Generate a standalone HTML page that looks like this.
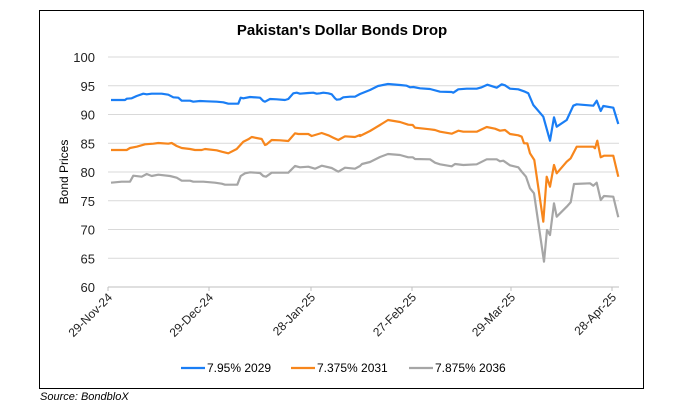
<!DOCTYPE html>
<html><head><meta charset="utf-8"><style>
html,body{margin:0;padding:0;background:#fff;}
body{width:685px;height:403px;overflow:hidden;font-family:"Liberation Sans",Calibri,sans-serif;}
</style></head><body>
<svg id="s" width="685" height="403" xmlns="http://www.w3.org/2000/svg" font-family="Liberation Sans, sans-serif">
<rect x="39.5" y="10.5" width="604" height="378" fill="#fff" stroke="#000" stroke-width="1"/>
<text x="342" y="35" text-anchor="middle" font-size="15" font-weight="bold">Pakistan's Dollar Bonds Drop</text>
<g id="grid" stroke="#d9d9d9" stroke-width="1"></g>
<g id="ylab" font-size="13" fill="#222" text-anchor="end"></g>
<text transform="translate(68,172) rotate(-90)" text-anchor="middle" font-size="12">Bond Prices</text>
<g id="xlab" font-size="12" fill="#222" text-anchor="end"></g>
<g id="lines" fill="none" stroke-width="2.2" stroke-linejoin="round"></g>
<g font-size="12">
<line x1="181" y1="368" x2="205" y2="368" stroke="#1a7ef5" stroke-width="2.2"/>
<text x="207" y="372">7.95% 2029</text>
<line x1="291" y1="368" x2="315" y2="368" stroke="#f7861c" stroke-width="2.2"/>
<text x="317" y="372">7.375% 2031</text>
<line x1="409" y1="368" x2="433" y2="368" stroke="#a6a6a6" stroke-width="2.2"/>
<text x="435" y="372">7.875% 2036</text>
</g>
<text x="40" y="400" font-size="11" font-style="italic">Source: BondbloX</text>
</svg>
<script>
var NS="http://www.w3.org/2000/svg";
function el(p,t,a,txt){var e=document.createElementNS(NS,t);for(var k in a)e.setAttribute(k,a[k]);if(txt)e.textContent=txt;document.getElementById(p).appendChild(e);}
for(var v=60;v<=100;v+=5){var y=57+(100-v)*5.75;
 el("grid","line",{x1:108,x2:619,y1:y,y2:y,stroke:v==60?"#bfbfbf":"#d9d9d9"});
 el("ylab","text",{x:95,y:y+5},String(v));}
var ticks=[[108,"29-Nov-24"],[209,"29-Dec-24"],[311,"28-Jan-25"],[412,"27-Feb-25"],[511,"29-Mar-25"],[612,"28-Apr-25"]];
ticks.forEach(function(t){el("grid","line",{x1:t[0],x2:t[0],y1:287,y2:291,stroke:"#bfbfbf"});
 el("xlab","text",{transform:"translate("+(t[0]+5)+",298) rotate(-45)"},t[1]);});
function conv(z1,gap,z2){var p=[];z1.forEach(function(a){p.push([30+a[0]/3,40+a[1]/3]);});
 gap.forEach(function(a){p.push(a);});z2.forEach(function(a){p.push([400+a[0]/3,40+a[1]/3]);});
 return p.map(function(a){return a[0].toFixed(1)+","+a[1].toFixed(1);}).join(" ");}
var blue=conv([[243,180],[285,180],[290,176],[305,175],[320,168],[340,161],[350,163],[365,161],[395,161],[415,164],[430,172],[445,173],[455,182],[480,182],[490,185],[510,183],[530,184],[560,185],[580,187],[595,191],[625,191],[632,173],[640,175],[660,171],[690,173],[700,183],[705,185],[720,177],[740,178],[765,180],[775,177],[790,160],[800,158],[810,161],[835,159],[850,158],[860,161],[870,160],[880,158],[895,160],[905,163],[915,175],[920,179],[930,178],[940,172],[960,170],[975,170],[990,162]],
[[360,94],[370,90],[378,86],[388,84],[400,85]],
[[20,137],[30,142],[40,141],[60,145],[90,147],[120,155],[155,156],[160,158],[175,148],[200,146],[230,146],[245,142],[262,134],[290,143],[305,133],[315,136],[330,146],[355,148],[375,155],[385,160],[400,195],[430,230],[450,302],[462,232],[470,260],[500,240],[520,197],[530,193],[580,197],[590,182],[602,213],[610,198],[640,203],[655,252]]);
var orange=conv([[243,330],[290,330],[300,324],[320,320],[345,313],[370,311],[385,309],[415,311],[425,309],[440,318],[455,324],[480,327],[495,330],[515,330],[525,327],[560,331],[575,335],[595,340],[620,327],[640,305],[655,298],[665,291],[695,297],[705,315],[710,313],[725,300],[750,301],[775,303],[795,280],[805,282],[835,282],[845,288],[875,279],[895,286],[910,293],[925,300],[945,289],[975,291],[990,285]],
[[360,136],[370,131],[380,125],[388,120],[400,122]],
[[25,254],[38,255],[45,263],[90,268],[105,270],[120,275],[155,281],[175,272],[190,275],[230,275],[260,261],[285,266],[300,272],[315,270],[330,282],[355,286],[365,290],[372,310],[382,310],[390,340],[403,360],[430,545],[440,410],[450,440],[462,375],[470,400],[500,365],[512,355],[530,320],[580,320],[585,325],[592,302],[602,352],[612,347],[640,347],[655,410]]);
var gray=conv([[243,428],[275,425],[300,425],[310,407],[335,410],[350,402],[365,408],[385,404],[420,408],[440,413],[455,422],[480,422],[490,425],[520,425],[555,428],[575,431],[585,434],[622,434],[632,408],[645,400],[660,397],[690,399],[700,408],[708,410],[725,398],[750,398],[775,398],[795,378],[810,382],[835,380],[855,386],[875,377],[905,384],[925,395],[945,383],[975,386],[990,378]],
[[362,164],[370,162],[380,157],[388,154],[400,155]],
[[25,352],[38,352],[45,357],[90,358],[105,368],[120,373],[155,379],[165,372],[190,375],[230,373],[260,358],[290,358],[300,364],[310,362],[330,376],[355,382],[365,395],[378,410],[390,445],[402,460],[432,665],[441,570],[450,585],[462,490],[470,530],[500,500],[512,487],[522,432],[570,430],[580,437],[590,428],[602,480],[612,468],[640,470],[655,532]]);
el("lines","polyline",{points:gray,stroke:"#a6a6a6"});
el("lines","polyline",{points:orange,stroke:"#f7861c"});
el("lines","polyline",{points:blue,stroke:"#1a7ef5"});
</script>
</body></html>
